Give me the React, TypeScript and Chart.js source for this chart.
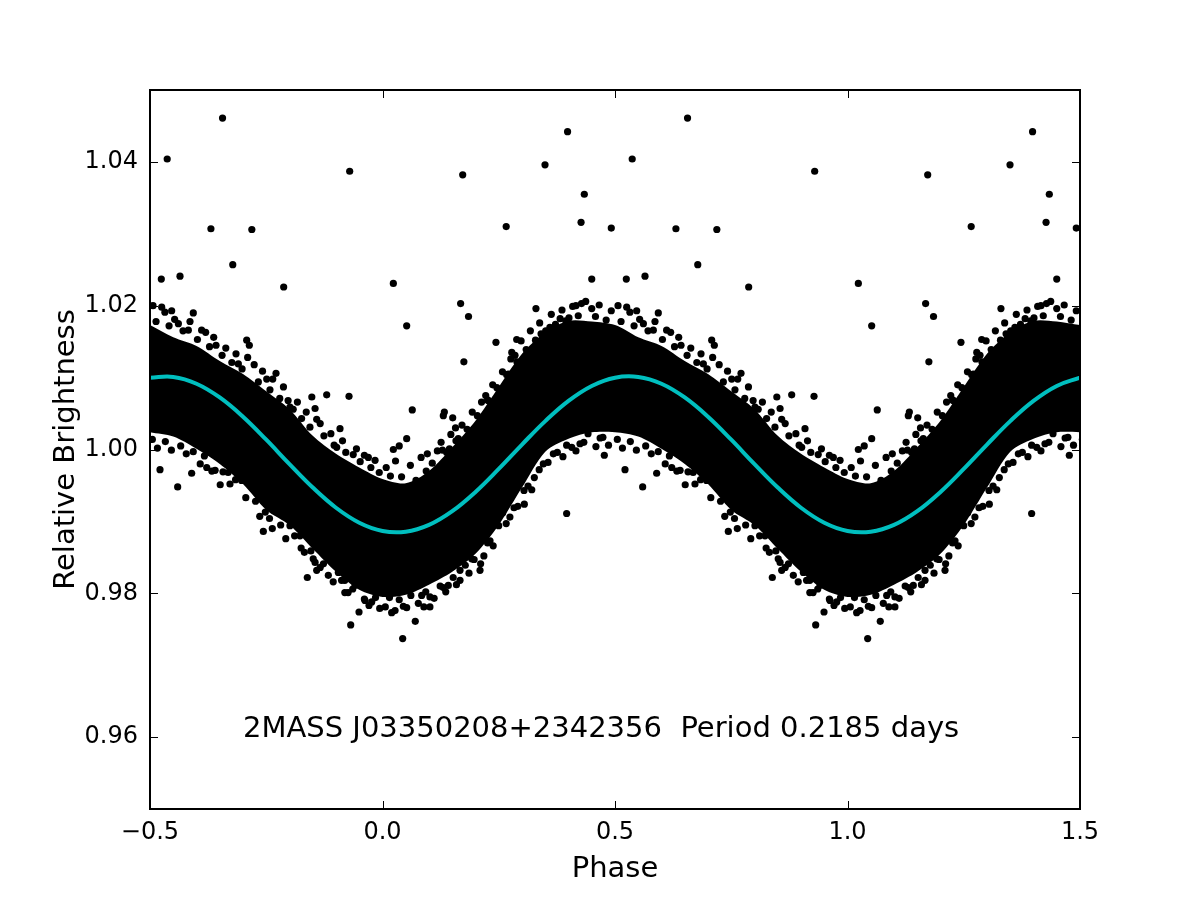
import React, { useEffect, useRef } from "react";
import { Chart, registerables } from "chart.js";

Chart.register(...registerables);

// Phase-folded light curve of 2MASS J03350208+2342356 (P = 0.2185 d).
// One cycle of data is stored; it is repeated over the plotted phase range.

const X_MIN = -0.5;
const X_MAX = 1.5;
const Y_MIN = 0.95;
const Y_MAX = 1.05;
const X_TICKS = [-0.5, 0.0, 0.5, 1.0, 1.5];
const Y_TICKS = [0.96, 0.98, 1.0, 1.02, 1.04];

// Phase grid for the fitted model and the envelope of the dense photometry.
const PHASE_GRID = [
  0.0, 0.05, 0.1, 0.15, 0.2, 0.25, 0.3, 0.35, 0.4, 0.45, 0.5,
  0.55, 0.6, 0.65, 0.7, 0.75, 0.8, 0.85, 0.9, 0.95, 1.0,
];

// Fitted sinusoidal model.
const FIT_CURVE = [
  0.98867, 0.98857, 0.98951, 0.99142, 0.9941, 0.9973, 1.00069, 1.00395, 1.00676, 1.00884, 1.00999,
  1.01009, 1.00915, 1.00724, 1.00456, 1.00136, 0.99797, 0.99471, 0.9919, 0.98982, 0.98867,
];

// Upper and lower edges of the densely packed core of the measurements.
const BAND_UPPER = [
  0.9959, 0.9953, 0.997, 1.0003, 1.004, 1.0087, 1.0133, 1.0163, 1.0179, 1.0178, 1.0173,
  1.0156, 1.0144, 1.0123, 1.0105, 1.0081, 1.0056, 1.0019, 0.9994, 0.9975, 0.9959,
];
const BAND_LOWER = [
  0.9795, 0.9798, 0.9812, 0.983, 0.9855, 0.9895, 0.9947, 0.9997, 1.0015, 1.0024, 1.0024,
  1.0018, 1.0001, 0.998, 0.9952, 0.9916, 0.9895, 0.9862, 0.983, 0.9805, 0.9795,
];

// Measurements along the top of the dense band [phase, brightness].
const UPPER_EDGE: [number, number][] = [
  [0.008, 0.9975], [0.017, 0.9963], [0.028, 0.9984], [0.041, 0.9962], [0.06, 0.9978],
  [0.072, 0.9957], [0.083, 0.9989], [0.094, 0.997], [0.107, 0.9981], [0.118, 0.9998],
  [0.126, 1.001], [0.138, 0.9996], [0.147, 1.0021], [0.158, 1.0012], [0.171, 1.0034],
  [0.182, 1.0028], [0.193, 1.0052], [0.204, 1.0047], [0.213, 1.0066], [0.226, 1.0069],
  [0.237, 1.009], [0.246, 1.0086], [0.258, 1.0108], [0.267, 1.0104], [0.276, 1.0126],
  [0.289, 1.0122], [0.298, 1.0151], [0.309, 1.0139], [0.318, 1.0165], [0.329, 1.0152],
  [0.338, 1.0176], [0.351, 1.0165], [0.363, 1.0188], [0.372, 1.0174], [0.386, 1.0194],
  [0.401, 1.0183], [0.409, 1.0199], [0.421, 1.0186], [0.437, 1.0206], [0.458, 1.0185],
  [0.466, 1.0201], [0.481, 1.018], [0.492, 1.0193], [0.513, 1.0178], [0.532, 1.0191],
  [0.541, 1.0172], [0.553, 1.0181], [0.571, 1.0165], [0.586, 1.0178], [0.602, 1.0153],
  [0.611, 1.0166], [0.628, 1.0143], [0.637, 1.0156], [0.655, 1.0131], [0.663, 1.0141],
  [0.676, 1.0121], [0.685, 1.0133], [0.698, 1.0112], [0.724, 1.0118], [0.733, 1.0094],
  [0.742, 1.0109], [0.758, 1.0083], [0.764, 1.0098], [0.779, 1.0071], [0.787, 1.0087],
  [0.808, 1.0056], [0.817, 1.0066], [0.826, 1.0043], [0.836, 1.0052], [0.844, 1.0031],
  [0.866, 1.0036], [0.874, 1.0019], [0.889, 1.0022], [0.896, 1.0006], [0.914, 1.0012],
  [0.921, 0.9996], [0.944, 1.0001], [0.952, 0.9983], [0.961, 0.9992], [0.975, 0.9975],
  [0.984, 0.9985], [0.993, 0.9968],
];

// Measurements along the bottom of the dense band [phase, brightness].
const LOWER_EDGE: [number, number][] = [
  [0.006, 0.9781], [0.015, 0.9794], [0.027, 0.9776], [0.036, 0.9791], [0.052, 0.978],
  [0.061, 0.9797], [0.077, 0.9786], [0.093, 0.9802], [0.111, 0.9793], [0.124, 0.981],
  [0.136, 0.9802], [0.152, 0.9822], [0.159, 0.9812], [0.178, 0.9839], [0.186, 0.9828],
  [0.197, 0.9847], [0.218, 0.9852], [0.226, 0.987], [0.238, 0.9866], [0.266, 0.9897],
  [0.274, 0.9906], [0.291, 0.9921], [0.313, 0.9949], [0.321, 0.9944], [0.337, 0.9972],
  [0.356, 0.9982], [0.376, 0.9996], [0.388, 0.999], [0.407, 1.0003], [0.416, 0.9998],
  [0.433, 1.001], [0.459, 1.0004], [0.468, 1.0016], [0.486, 1.0006], [0.505, 1.0014],
  [0.516, 1.0002], [0.533, 1.0011], [0.546, 0.9999], [0.566, 1.0005], [0.578, 0.9994],
  [0.593, 0.9997], [0.608, 0.998], [0.617, 0.9991], [0.633, 0.997], [0.657, 0.9969],
  [0.672, 0.9952], [0.684, 0.9958], [0.706, 0.9933], [0.727, 0.9928], [0.736, 0.9907],
  [0.757, 0.9904], [0.763, 0.989], [0.781, 0.9895], [0.792, 0.9876], [0.811, 0.988],
  [0.832, 0.9857], [0.846, 0.9859], [0.866, 0.9836], [0.873, 0.9841], [0.894, 0.9816],
  [0.912, 0.9818], [0.926, 0.9801], [0.936, 0.9806], [0.961, 0.9792], [0.971, 0.9783],
  [0.985, 0.9794], [0.994, 0.9779],
];

// Scattered measurements just outside the dense band [phase, brightness].
const SCATTER_POINTS: [number, number][] = [
  [0.5466, 1.0193], [0.5931, 1.019], [0.5065, 1.02], [0.5252, 1.0198], [0.6197, 1.0163],
  [0.5824, 1.0166], [0.561, 1.0175], [0.642, 1.0145], [0.708, 1.0152], [0.7136, 1.0145],
  [0.71, 1.0128], [0.69, 1.0119], [0.771, 1.0106], [0.751, 1.0098], [0.848, 1.0073],
  [0.88, 1.0076], [0.928, 1.0074], [0.855, 1.0057], [0.8585, 1.0042], [0.9086, 1.0029],
  [0.9695, 0.9989], [0.937, 0.9993], [0.9015, 1.0003], [0.797, 1.0068], [0.801, 1.0059],
  [0.0233, 1.0], [0.036, 1.0005], [0.052, 1.0015], [0.0964, 0.9994], [0.1308, 1.0047],
  [0.151, 1.0044], [0.133, 1.0052], [0.157, 1.003], [0.163, 1.0015], [0.129, 0.9999],
  [0.144, 1.0001], [0.222, 1.0075], [0.2275, 1.0068], [0.2706, 1.0105], [0.285, 1.0096],
  [0.278, 1.0135], [0.285, 1.0131], [0.317, 1.0138], [0.324, 1.0133], [0.341, 1.0161],
  [0.36, 1.017], [0.382, 1.0182], [0.394, 1.0179], [0.416, 1.02], [0.428, 1.0203],
  [0.45, 1.0196],
  [0.442, 1.0022], [0.474, 1.0017], [0.477, 0.9992], [0.5215, 0.9972], [0.5595, 0.9948],
  [0.5896, 0.9967], [0.651, 0.9951], [0.622, 0.9975], [0.64, 0.9971], [0.668, 0.9968],
  [0.697, 0.9957], [0.7187, 0.995], [0.7437, 0.9886], [0.748, 0.9913], [0.7725, 0.9924],
  [0.801, 0.9894], [0.8226, 0.988], [0.825, 0.9863], [0.8383, 0.9822], [0.851, 0.9848],
  [0.855, 0.9843], [0.8585, 0.9832], [0.8835, 0.9825], [0.905, 0.9829], [0.919, 0.9818],
  [0.919, 0.9801], [0.941, 0.9811], [0.955, 0.9811], [0.9316, 0.9756], [0.9495, 0.9774],
  [0.9624, 0.979], [0.9768, 0.9788], [0.0197, 0.9773], [0.0434, 0.9737], [0.0448, 0.9782],
  [0.0705, 0.9761], [0.0843, 0.9797], [0.089, 0.9781], [0.102, 0.9781], [0.102, 0.9795],
  [0.1308, 0.9808], [0.1415, 0.9811], [0.1667, 0.9818], [0.1667, 0.9832], [0.1918, 0.9848],
  [0.2097, 0.9832], [0.211, 0.9841], [0.2312, 0.9873], [0.2499, 0.9894], [0.2585, 0.9912],
  [0.2828, 0.9919], [0.305, 0.9924], [0.3043, 0.9943], [0.3265, 0.9961], [0.3458, 0.998],
  [0.3674, 0.9994], [0.396, 1.0006], [0.4247, 1.0008],
];

// Isolated outlying measurements [phase, brightness].
const OUTLIERS: [number, number][] = [
  [0.0233, 1.0231], [0.052, 1.0172], [0.064, 1.0055], [0.168, 1.0203], [0.1725, 1.0382],
  [0.175, 1.0122], [0.185, 1.0185], [0.244, 1.0149], [0.266, 1.031], [0.2886, 1.0153],
  [0.33, 1.0196], [0.3495, 1.0396], [0.396, 0.9911], [0.398, 1.0442], [0.427, 1.0316],
  [0.434, 1.0355], [0.45, 1.0237], [0.492, 1.0308], [0.5243, 1.0237], [0.537, 1.0404],
  [0.5645, 1.0241], [0.631, 1.0307], [0.656, 1.0461], [0.678, 1.0257], [0.719, 1.0306],
  [0.7875, 1.0226], [0.9294, 1.0387],
];

const TARGET_LABEL = "2MASS J03350208+2342356  Period 0.2185 days";
const LABEL_AT: [number, number] = [-0.3, 0.96];

const FONT = "'DejaVu Sans', 'Bitstream Vera Sans', sans-serif";
const CURVE_COLOR = "#00bfbf";

type Pt = { x: number; y: number };

// Repeat one cycle of points over the plotted phase range.
function foldPoints(list: [number, number][]): Pt[] {
  const out: Pt[] = [];
  for (const [p, v] of list) {
    for (const k of [-1, 0, 1]) {
      const q = p + k;
      if (q >= X_MIN - 0.02 && q <= X_MAX + 0.02) out.push({ x: q, y: v });
    }
  }
  return out;
}

// Repeat a gridded cycle over the plotted phase range as a continuous series.
function foldSeries(values: number[]): Pt[] {
  const byX = new Map<number, number>();
  for (const k of [-1, 0, 1]) {
    PHASE_GRID.forEach((p, i) => {
      const q = Math.round((p + k) * 10000) / 10000;
      if (q >= X_MIN - 1e-9 && q <= X_MAX + 1e-9) byX.set(q, values[i]);
    });
  }
  return [...byX.entries()].sort((a, b) => a[0] - b[0]).map(([x, y]) => ({ x, y }));
}

const framePlugin = {
  id: "frame",
  afterDraw(chart: any) {
    const { ctx, chartArea: a, scales } = chart;
    const xs = scales.x;
    const ys = scales.y;
    ctx.save();
    // inward tick marks on all four sides
    ctx.strokeStyle = "#000";
    ctx.lineWidth = 1;
    const len = 8;
    ctx.beginPath();
    for (const v of X_TICKS) {
      const px = Math.round(xs.getPixelForValue(v)) + 0.5;
      ctx.moveTo(px, a.bottom);
      ctx.lineTo(px, a.bottom - len);
      ctx.moveTo(px, a.top);
      ctx.lineTo(px, a.top + len);
    }
    for (const v of Y_TICKS) {
      const py = Math.round(ys.getPixelForValue(v)) + 0.5;
      ctx.moveTo(a.left, py);
      ctx.lineTo(a.left + len, py);
      ctx.moveTo(a.right, py);
      ctx.lineTo(a.right - len, py);
    }
    ctx.stroke();
    // axes frame
    ctx.lineWidth = 2;
    ctx.strokeRect(a.left, a.top, a.right - a.left, a.bottom - a.top);

    // annotation inside the plot
    ctx.fillStyle = "#000";
    ctx.font = `29px ${FONT}`;
    ctx.textAlign = "left";
    ctx.textBaseline = "alphabetic";
    ctx.fillText(TARGET_LABEL, xs.getPixelForValue(LABEL_AT[0]), ys.getPixelForValue(LABEL_AT[1]));

    // axis titles
    ctx.textAlign = "center";
    ctx.fillText("Phase", (a.left + a.right) / 2, 877);
    ctx.translate(74, (a.top + a.bottom) / 2);
    ctx.rotate(-Math.PI / 2);
    ctx.fillText("Relative Brightness", 0, 0);
    ctx.restore();
  },
};

export default function App() {
  const canvasRef = useRef<HTMLCanvasElement | null>(null);

  useEffect(() => {
    const canvas = canvasRef.current;
    if (!canvas) return;
    const chart = new Chart(canvas, {
      type: "scatter",
      data: {
        datasets: [
          {
            label: "band-lower",
            data: foldSeries(BAND_LOWER),
            showLine: true,
            borderWidth: 0,
            pointRadius: 0,
            tension: 0.3,
            fill: false,
            order: 3,
          },
          {
            label: "band-upper",
            data: foldSeries(BAND_UPPER),
            showLine: true,
            borderWidth: 0,
            pointRadius: 0,
            tension: 0.3,
            backgroundColor: "#000",
            fill: "-1",
            order: 2,
          },
          {
            label: "measurements",
            data: [
              ...foldPoints(UPPER_EDGE),
              ...foldPoints(LOWER_EDGE),
              ...foldPoints(SCATTER_POINTS),
              ...foldPoints(OUTLIERS),
            ],
            pointRadius: 3.6,
            pointBorderWidth: 0,
            pointBackgroundColor: "#000",
            backgroundColor: "#000",
            borderColor: "#000",
            order: 1,
          },
          {
            label: "fit",
            data: foldSeries(FIT_CURVE),
            showLine: true,
            borderColor: CURVE_COLOR,
            borderWidth: 4,
            pointRadius: 0,
            tension: 0.4,
            fill: false,
            order: 0,
          },
        ],
      },
      options: {
        animation: false,
        responsive: false,
        devicePixelRatio: 1,
        layout: { padding: { top: 90, right: 120, left: 0, bottom: 0 } },
        plugins: {
          legend: { display: false },
          tooltip: { enabled: false },
        },
        events: [],
        scales: {
          x: {
            type: "linear",
            min: X_MIN,
            max: X_MAX,
            grid: { display: false, drawTicks: false },
            border: { display: false },
            afterFit: (s: any) => {
              s.height = 91;
            },
            afterBuildTicks: (s: any) => {
              s.ticks = X_TICKS.map((v) => ({ value: v }));
            },
            ticks: {
              color: "#000",
              padding: 9,
              maxRotation: 0,
              font: { family: FONT, size: 24 },
              callback: (v: any) => Number(v).toFixed(1).replace("-", "\u2212"),
            },
          },
          y: {
            type: "linear",
            min: Y_MIN,
            max: Y_MAX,
            grid: { display: false, drawTicks: false },
            border: { display: false },
            afterFit: (s: any) => {
              s.width = 150;
            },
            afterBuildTicks: (s: any) => {
              s.ticks = Y_TICKS.map((v) => ({ value: v }));
            },
            ticks: {
              color: "#000",
              padding: 12,
              font: { family: FONT, size: 24 },
              callback: (v: any) => Number(v).toFixed(2),
            },
          },
        },
      },
      plugins: [framePlugin],
    });
    return () => chart.destroy();
  }, []);

  return (
    <div style={{ position: "absolute", left: 0, top: 0, width: 1200, height: 900, background: "#fff" }}>
      <canvas ref={canvasRef} width={1200} height={900} style={{ display: "block" }} />
    </div>
  );
}
